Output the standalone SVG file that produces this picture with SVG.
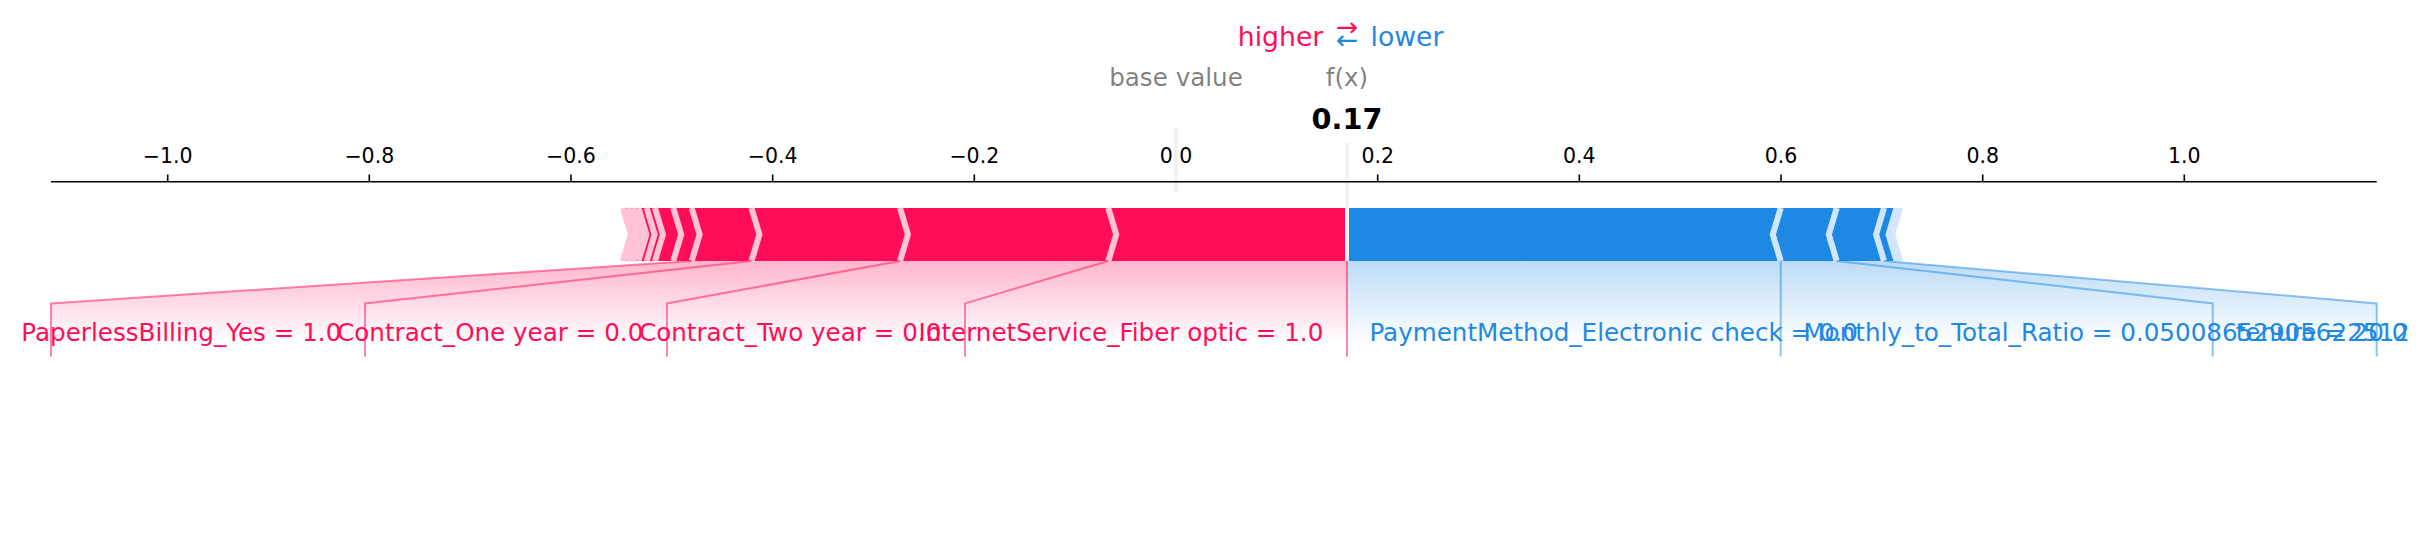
<svg xmlns="http://www.w3.org/2000/svg" width="2426" height="543" viewBox="0 0 2426 543">
<defs>
<linearGradient id="gpos" gradientUnits="userSpaceOnUse" x1="0" y1="261" x2="0" y2="343.2">
<stop offset="0" stop-color="#FF0D57" stop-opacity="0.3"/>
<stop offset="1" stop-color="#FF0D57" stop-opacity="0"/>
</linearGradient>
<linearGradient id="gneg" gradientUnits="userSpaceOnUse" x1="0" y1="261" x2="0" y2="343.2">
<stop offset="0" stop-color="#1E88E5" stop-opacity="0.3"/>
<stop offset="1" stop-color="#1E88E5" stop-opacity="0"/>
</linearGradient>
</defs>
<style>
text{font-family:"DejaVu Sans","Liberation Sans",sans-serif}
.lbl{font-size:24.6px}
.pos{fill:#FF0D57}
.neg{fill:#1E88E5}
.end{text-anchor:end}
.sepP{fill:none;stroke:#FFC3D5;stroke-width:6.1;stroke-linejoin:miter}
.sepN{fill:none;stroke:#D1E6FA;stroke-width:6.1;stroke-linejoin:miter}
.ldP{fill:none;stroke:#FF0D57;stroke-opacity:0.5;stroke-width:2}
.ldN{fill:none;stroke:#1E88E5;stroke-opacity:0.5;stroke-width:2}
.tick{stroke:#000;stroke-width:1.6}
.tl{font-size:20.5px;text-anchor:middle;fill:#000}
.gray{stroke:#F2F2F2;stroke-width:4;fill:none}
.mid{text-anchor:middle}
.faint{fill:#000;fill-opacity:0.5;font-size:24.6px}
.leg{font-size:26.7px}
</style>
<rect width="2426" height="543" fill="#fff"/>

<g id="shading">
<path d="M1347,261 L691.7,261 L51,303.4 L51,367 L1347,367 Z" fill="url(#gpos)"/>
<path d="M1347,261 L1884,261 L2376.7,303.4 L2376.7,367 L1347,367 Z" fill="url(#gneg)"/>
</g>

<g id="negative-bar">
<path d="M1347,208 L1900,208 L1892.9,234.5 L1900,261 L1347,261 Z" fill="#1E88E5"/>
<path class="sepN" d="M1780.7,261 L1772.8,234.5 L1780.7,208"/>
<path class="sepN" d="M1836.7,261 L1828.8,234.5 L1836.7,208"/>
<path class="sepN" d="M1884,261 L1876.1,234.5 L1884,208"/>
<path class="sepN" d="M1896.5,261 L1888.6,234.5 L1896.5,208"/>
<path class="sepN" d="M1900,261 L1892.1,234.5 L1900,208"/>
</g>

<g id="positive-bar">
<path d="M1347,208 L623,208 L630.1,234.5 L623,261 L1347,261 Z" fill="#FF0D57"/>
<path class="sepP" d="M1108.3,261 L1116.2,234.5 L1108.3,208"/>
<path class="sepP" d="M900,261 L907.9,234.5 L900,208"/>
<path class="sepP" d="M751.5,261 L759.4,234.5 L751.5,208"/>
<path class="sepP" d="M691.7,261 L699.6,234.5 L691.7,208"/>
<path class="sepP" d="M673.3,261 L681.2,234.5 L673.3,208"/>
<path class="sepP" d="M655,261 L662.9,234.5 L655,208"/>
<path class="sepP" d="M646.7,261 L654.6,234.5 L646.7,208"/>
<path class="sepP" d="M638.5,261 L646.4,234.5 L638.5,208"/>
<path class="sepP" d="M633,261 L640.9,234.5 L633,208"/>
<path class="sepP" d="M628,261 L635.9,234.5 L628,208"/>
<path class="sepP" d="M623,261 L630.9,234.5 L623,208"/>
</g>

<g id="connectors">
<path class="ldP" d="M1347,261 V356.4"/>
<path class="ldP" d="M1108.3,261 L965,303.4 V356.4"/>
<path class="ldP" d="M900,261 L667,303.4 V356.4"/>
<path class="ldP" d="M751.5,261 L365,303.4 V356.4"/>
<path class="ldP" d="M691.7,261 L51,303.4 V356.4"/>
<path class="ldN" d="M1780.7,261 V356.4"/>
<path class="ldN" d="M1836.7,261 L2212.7,303.4 V356.4"/>
<path class="ldN" d="M1884,261 L2376.7,303.4 V356.4"/>
</g>

<g id="axis-ticks">
<path class="tick" d="M167.7,181.7 V174.6 M369.3,181.7 V174.6 M571,181.7 V174.6 M772.7,181.7 V174.6 M974.3,181.7 V174.6 M1176,181.7 V174.6 M1377.7,181.7 V174.6 M1579.3,181.7 V174.6 M1781,181.7 V174.6 M1982.7,181.7 V174.6 M2184.3,181.7 V174.6"/>
<text class="tl" x="167.7" y="163.3">−1.0</text>
<text class="tl" x="369.3" y="163.3">−0.8</text>
<text class="tl" x="571" y="163.3">−0.6</text>
<text class="tl" x="772.7" y="163.3">−0.4</text>
<text class="tl" x="974.3" y="163.3">−0.2</text>
<text class="tl" x="1176" y="163.3">0.0</text>
<text class="tl" x="1377.7" y="163.3">0.2</text>
<text class="tl" x="1579.3" y="163.3">0.4</text>
<text class="tl" x="1781" y="163.3">0.6</text>
<text class="tl" x="1982.7" y="163.3">0.8</text>
<text class="tl" x="2184.3" y="163.3">1.0</text>
</g>

<g id="base-value">
<path class="gray" d="M1176,128.5 V192.1"/>
<text class="faint mid" x="1176" y="86.1">base value</text>
</g>

<g id="output-value">
<path class="gray" d="M1347,133.8 V261"/>
</g>

<g id="axis-spine">
<path d="M51,181.7 H2376.7" stroke="#000" stroke-width="1.6" fill="none"/>
</g>

<g id="output-label">
<text class="faint mid" x="1347" y="86.1">f(x)</text>
<rect x="1304" y="95" width="86" height="48" fill="#fff"/>
<text class="mid" x="1347" y="128.5" font-size="28.7" font-weight="bold" fill="#000">0.17</text>
</g>

<g id="legend">
<text class="leg pos end" x="1323.3" y="46.4">higher</text>
<text class="leg neg" x="1370.5" y="46.4">lower</text>
<text class="leg pos mid" x="1347" y="35.8">→</text>
<text class="leg neg mid" x="1347" y="49">←</text>
</g>

<g id="label-internetservice"><text class="lbl pos end" x="1323.3" y="341">InternetService_Fiber optic = 1.0</text></g>
<g id="label-contract-two"><text class="lbl pos end" x="941.3" y="341">Contract_Two year = 0.0</text></g>
<g id="label-contract-one"><text class="lbl pos end" x="643.3" y="341">Contract_One year = 0.0</text></g>
<g id="label-paperless"><text class="lbl pos end" x="341.3" y="341">PaperlessBilling_Yes = 1.0</text></g>
<g id="label-paymentmethod"><text class="lbl neg" x="1369.4" y="341">PaymentMethod_Electronic check = 0.0</text></g>
<g id="label-monthly-ratio"><text class="lbl neg" x="1803.4" y="341">Monthly_to_Total_Ratio = 0.05008652905622512</text></g>
<g id="label-tenure"><text class="lbl neg" x="2235.7" y="341">tenure = 20.0</text></g>
</svg>
